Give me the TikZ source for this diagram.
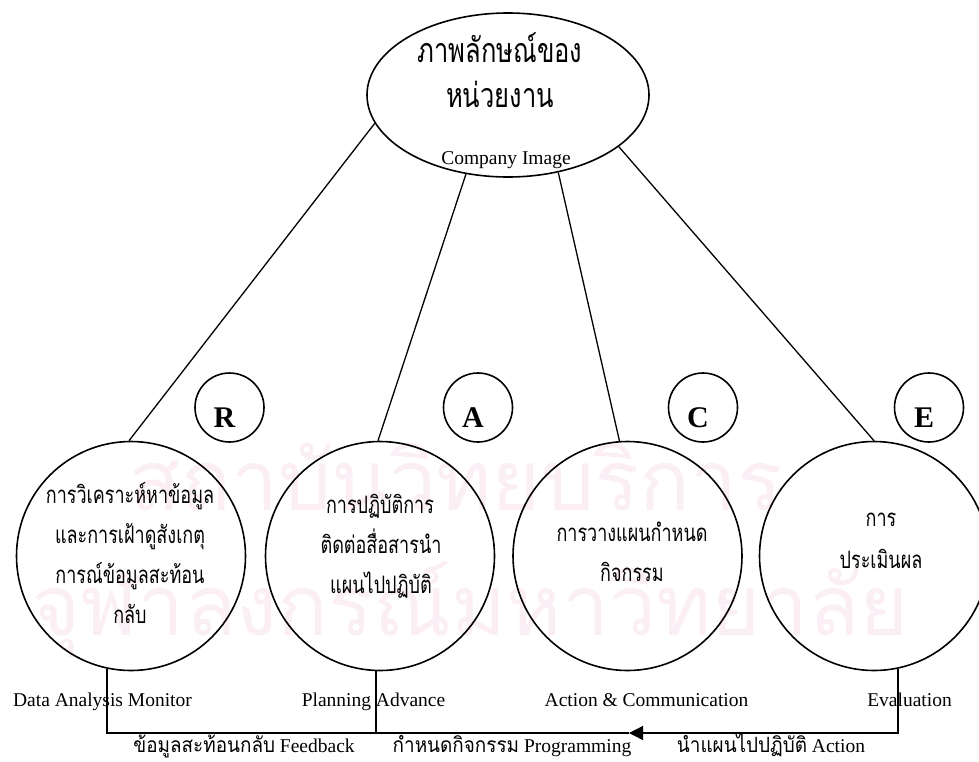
\documentclass[tikz,border=0pt]{standalone}
\usepackage{fontspec}
\setmainfont{Liberation Serif}
\newfontfamily\thai[Script=Thai,FakeStretch=0.75]{Loma}
\newfontfamily\thaib[Script=Thai,FakeStretch=0.9]{Loma}
\newfontfamily\wmthai[Script=Thai]{Loma}
\usetikzlibrary{arrows.meta,shapes.geometric}
\definecolor{wmpink}{RGB}{251,239,245}
\begin{document}
\begin{tikzpicture}[x=1pt,y=-1pt,
  shapeline/.style={draw,line width=1.6pt},
  bigc/.style={shapeline,circle,minimum size=229pt,inner sep=0pt},
  smallc/.style={shapeline,circle,minimum size=69pt,inner sep=0pt},
  letter/.style={anchor=base,inner sep=0pt,font=\fontsize{30}{30}\selectfont\bfseries},
  thtxt/.style={anchor=base,inner sep=0pt,text height=14pt,text depth=4pt,font=\thai\fontsize{24}{24}\selectfont},
  titletxt/.style={anchor=base,inner sep=0pt,text height=20pt,text depth=5pt,font=\thai\fontsize{34}{34}\selectfont},
  entxt/.style={anchor=base,inner sep=0pt,text height=14pt,text depth=3pt,font=\fontsize{19.5}{19.5}\selectfont},
  bottxt/.style={anchor=base,inner sep=0pt,text height=14pt,text depth=2pt,font=\fontsize{19.5}{19.5}\selectfont},
  wm/.style={anchor=base,inner sep=0pt,text=wmpink,font=\wmthai\fontsize{84}{84}\selectfont},
  link/.style={draw,line width=1.3pt}
]
\path[use as bounding box] (0,0) rectangle (979,761);
\clip (0,0) rectangle (979,761);

% faint watermark
\node[wm] (wm1) at (456,510) {สถาบันวิทยบริการ};
\node[wm] (wm2) at (470,635) {จุฬาลงกรณ์มหาวิทยาลัย};

% top ellipse
\node[shapeline,ellipse,minimum width=282pt,minimum height=164pt,inner sep=0pt] (img) at (508,95) {};
\node[titletxt] (t1) at (500,62) {ภาพลักษณ์ของ};
\node[titletxt] (t2) at (500,107) {หน่วยงาน};
\node[entxt] (t3) at (506,164) {Company Image};

% big circles
\node[bigc] (c1) at (131,556) {};
\node[bigc] (c2) at (380,556) {};
\node[bigc] (c3) at (627.5,556) {};
\node[bigc] (c4) at (874,556) {};

% small letter circles
\node[smallc] (sR) at (229.5,407.5) {};
\node[smallc] (sA) at (478,407.5) {};
\node[smallc] (sC) at (703,407.5) {};
\node[smallc] (sE) at (929,407.5) {};
\node[letter] (lR) at (224.5,427) {R};
\node[letter] (lA) at (473,427) {A};
\node[letter] (lC) at (698,427) {C};
\node[letter] (lE) at (924,427) {E};

% circle texts
\node[thtxt] (a1) at (130,503) {การวิเคราะห์หาข้อมูล};
\node[thtxt] (a2) at (130,543) {และการเฝ้าดูสังเกตุ};
\node[thtxt] (a3) at (130,583) {การณ์ข้อมูลสะท้อน};
\node[thtxt] (a4) at (130,623) {กลับ};

\node[thtxt] (b1) at (380,513) {การปฏิบัติการ};
\node[thtxt] (b2) at (381,553) {ติดต่อสื่อสารนำ};
\node[thtxt] (b3) at (381,593) {แผนไปปฏิบัติ};

\node[thtxt] (d1) at (632,541) {การวางแผนกำหนด};
\node[thtxt] (d2) at (632,581) {กิจกรรม};

\node[thtxt] (e1) at (881,526) {การ};
\node[thtxt] (e2) at (881,568) {ประเมินผล};

% english labels
\node[entxt] (n1) at (102.5,706) {Data Analysis Monitor};
\node[entxt] (n2) at (373.5,706) {Planning Advance};
\node[entxt] (n3) at (646.5,706) {Action \& Communication};
\node[entxt] (n4) at (909.5,706) {Evaluation};

% bottom labels
\node[bottxt] (f1) at (244,752) {{\thaib\fontsize{21}{21}\selectfont ข้อมูลสะท้อนกลับ} Feedback};
\node[bottxt] (f2) at (512,752) {{\thaib\fontsize{21}{21}\selectfont กำหนดกิจกรรม} Programming};
\node[bottxt] (f3) at (771,752) {{\thaib\fontsize{21}{21}\selectfont นำแผนไปปฏิบัติ} Action};

% connectors from company image
\draw[link] (img.192.8) -- (c1.91.5);
\draw[link] (img.242) -- (c2.91.5);
\draw[link] (img.303.7) -- (c3.94);
\draw[link] (img.335.8) -- (c4.90.5);

% feedback loop
\coordinate (tip) at (629,733);
\draw[link,-{Triangle[length=14pt,width=14pt]}] (c4.282.6) |- (tip);
\draw[link] (tip) -| (c1.258);
\draw[link] (c2.268.5) -- (c2.268.5 |- tip);
\end{tikzpicture}
\end{document}
